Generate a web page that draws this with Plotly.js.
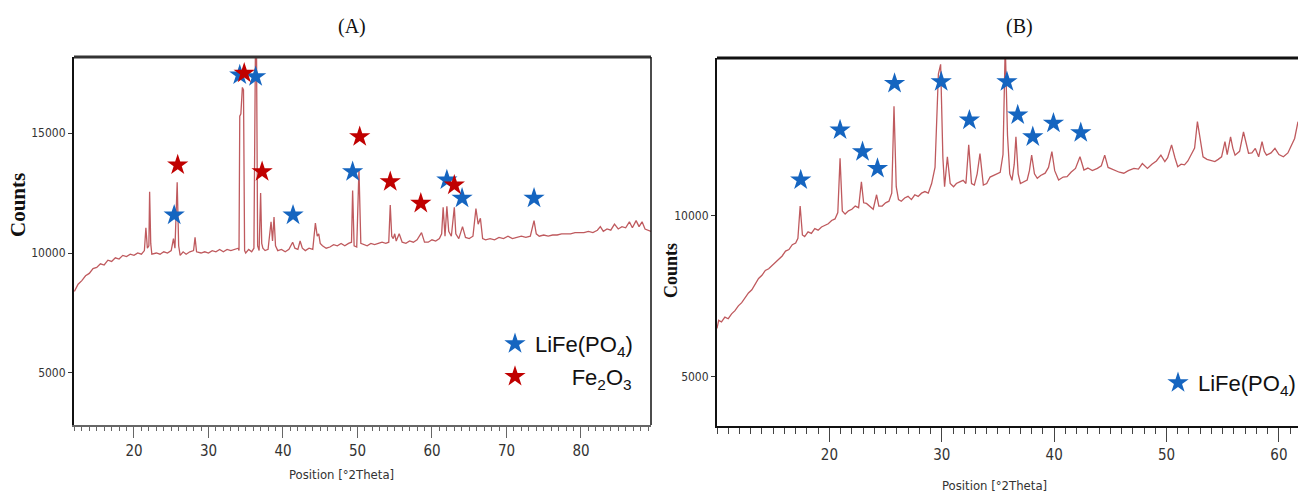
<!DOCTYPE html>
<html>
<head>
<meta charset="utf-8">
<script src="https://cdn.plot.ly/plotly-3.0.1.min.js"></script>
<style>html,body{margin:0;padding:0;background:#fff;}#chart{width:1298px;height:493px;}</style>
</head>
<body>
<div id="chart"></div>
<script>
// ---------- Panel A: pattern ----------
const thetaA = [12.0,12.5,13.0,13.5,14.0,14.5,15.0,15.5,16.0,16.5,17.0,17.5,18.0,18.5,19.0,19.5,20.0,20.5,21.0,21.3,21.4,21.6,21.8,22.0,22.1,22.25,22.4,23.0,23.5,24.0,24.5,25.0,25.3,25.5,25.8,26.0,26.2,26.6,27.0,27.5,28.0,28.2,28.4,29.0,29.5,30.0,30.5,31.0,31.5,32.0,32.5,33.0,33.5,34.0,34.1,34.2,34.35,34.55,34.7,34.85,35.0,35.4,35.8,36.1,36.3,36.45,36.6,36.8,37.0,37.15,37.3,37.6,38.0,38.4,38.6,38.8,39.0,39.3,39.8,40.3,40.8,41.3,41.6,42.0,42.3,42.6,43.0,43.5,44.0,44.35,44.6,44.8,45.0,45.3,45.8,46.3,46.8,47.3,47.8,48.3,48.8,49.2,49.35,49.55,49.9,50.2,50.45,50.8,51.3,51.8,52.3,52.8,53.3,53.8,54.2,54.4,54.6,54.8,55.0,55.2,55.6,56.0,56.5,57.0,57.5,58.0,58.6,59.0,59.5,60.0,60.5,61.0,61.3,61.5,61.75,62.0,62.25,62.6,63.0,63.2,63.6,64.1,64.5,65.0,65.5,65.9,66.2,66.5,66.8,67.2,67.8,68.4,69.0,69.6,70.2,70.8,71.4,72.0,72.6,73.2,73.7,74.0,74.4,75.0,75.6,76.2,76.8,77.4,78.0,78.6,79.2,79.8,80.4,81.0,81.6,82.2,82.6,83.0,83.5,84.0,84.5,85.0,85.5,86.0,86.5,86.9,87.4,87.8,88.2,88.6,89.0,89.4];
const countsA = [8400,8700,8850,9050,9150,9350,9400,9550,9500,9700,9650,9800,9750,9900,9850,9950,9900,10000,9950,10050,10100,11050,10200,10300,12550,10400,9950,10000,9950,10050,10000,10100,10600,10200,12950,10300,9900,10050,9950,10050,10100,10650,10050,10000,10050,10000,10100,10050,10150,10050,10150,10100,10150,10200,10100,15700,15800,16900,16800,10100,10000,10150,10050,10200,18400,18400,10300,10100,12500,10400,10200,10100,10150,11300,10500,11500,10300,10100,10150,10050,10150,10450,10200,10150,10500,10200,10100,10200,10150,11250,10700,10800,10400,10300,10200,10250,10350,10300,10400,10300,10400,10450,12600,10300,10250,13500,10400,10350,10300,10400,10350,10400,10450,10400,10450,12000,10700,10600,10800,10500,10800,10450,10400,10500,10450,10550,10850,10450,10450,10550,10500,10600,10800,11900,10700,11950,10900,10700,11900,10800,10600,11100,10650,10600,10700,11850,11200,11450,10600,10550,10600,10550,10650,10600,10700,10600,10650,10700,10650,10700,11350,10800,10700,10750,10700,10750,10750,10800,10800,10800,10850,10850,10850,10900,10850,10950,11100,10900,11000,10950,11200,11000,11100,11050,11300,11050,11350,11100,11300,11000,10950,10900];

// Panel A peak markers
const lfpA_x = [25.4, 34.2, 36.33, 41.35, 49.35, 62.0, 64.04, 73.7];
const lfpA_y = [11580, 17420, 17350, 11580, 13390, 13040, 12280, 12280];
const feA_x = [25.87, 34.8, 37.2, 50.3, 54.4, 58.5, 63.0];
const feA_y = [13670, 17490, 13390, 14850, 12970, 12070, 12830];

// ---------- Panel B: pattern ----------
const thetaB = [10.0,10.15,10.4,10.7,11.0,11.3,11.6,11.9,12.2,12.5,12.8,13.1,13.4,13.7,14.0,14.3,14.6,14.9,15.2,15.5,15.8,16.1,16.4,16.7,17.0,17.2,17.4,17.6,17.8,18.1,18.4,18.7,19.0,19.3,19.6,19.9,20.2,20.5,20.75,20.95,21.15,21.4,21.7,22.0,22.3,22.6,22.85,23.05,23.3,23.6,23.9,24.2,24.4,24.7,25.0,25.3,25.55,25.75,25.95,26.15,26.4,26.7,27.0,27.3,27.6,27.9,28.2,28.5,28.8,29.1,29.4,29.7,29.9,30.1,30.25,30.5,30.75,31.05,31.3,31.6,31.9,32.15,32.4,32.65,32.9,33.15,33.4,33.7,34.0,34.3,34.6,34.9,35.2,35.45,35.65,35.85,36.05,36.25,36.45,36.6,36.8,37.0,37.3,37.6,37.8,38.0,38.25,38.5,38.8,39.2,39.5,39.8,40.05,40.4,40.8,41.15,41.5,41.9,42.3,42.65,43.0,43.4,43.85,44.2,44.5,44.8,45.0,45.4,45.8,46.2,46.6,47.1,47.5,47.85,48.3,48.7,49.1,49.5,49.85,50.1,50.45,50.75,51.0,51.3,51.6,51.9,52.2,52.5,52.75,53.0,53.25,53.6,54.0,54.3,54.6,54.9,55.2,55.4,55.7,55.9,56.1,56.5,56.85,57.1,57.3,57.6,57.9,58.2,58.5,58.7,58.9,59.3,59.65,60.0,60.4,60.8,61.1,61.4,61.7];
const countsB = [6500,6750,6700,6850,6800,6950,7050,7200,7300,7450,7600,7700,7900,8050,8150,8300,8350,8450,8550,8650,8750,8900,8950,9100,9150,9300,10300,9400,9350,9500,9450,9600,9550,9650,9700,9750,9850,9900,10100,11780,10150,10050,10150,10200,10300,10250,11050,10400,10380,10300,10200,10650,10300,10300,10400,10450,10700,13400,10900,10500,10450,10550,10600,10500,10650,10600,10700,10750,10700,11000,11500,14400,14700,11800,10900,11830,11000,10900,11000,11050,11100,11000,12200,11000,10950,11300,11930,10950,11000,11200,11250,11300,11350,11900,15300,12500,11300,11100,11600,12450,11300,11000,11050,11110,11400,11880,11300,11160,11250,11320,11500,11990,11400,11110,11200,11210,11350,11470,11830,11420,11480,11400,11470,11550,11880,11500,11470,11400,11350,11320,11400,11470,11450,11620,11470,11600,11700,11880,11680,11800,12200,11800,11520,11600,11580,11700,11880,12100,12920,12300,11830,11750,11700,11680,11750,11830,12300,11900,12450,12100,11880,12000,12600,12200,11940,11950,12090,11830,12300,12000,11880,11950,12090,11900,11830,11950,12150,12400,12920];

const lfpB_x = [17.45, 20.95, 22.95, 24.28, 25.8, 29.95, 32.46, 35.8, 36.76, 38.1, 39.94, 42.37];
const lfpB_y = [11110, 12660, 11990, 11470, 14110, 14160, 12970, 14160, 13130, 12450, 12870, 12580];

// ---------- labels ----------
const panelTitles = ['(A)', '(B)'];
const yTitle = 'Counts';
const xTitle = 'Position [°2Theta]';
const legendLFP = 'LiFe(PO<sub>4</sub>)';
const legendFe = '\u00a0\u00a0\u00a0\u00a0\u00a0\u00a0Fe<sub>2</sub>O<sub>3</sub>';
const yTicks = [5000, 10000, 15000];
const xTicksA = [20, 30, 40, 50, 60, 70, 80];
const xTicksB = [20, 30, 40, 50, 60];

const lineColor = '#bf5a5e';
const blue = '#1565c0';
const red = '#c00000';
const narrow = 'Liberation Sans Narrow, DejaVu Sans Condensed, Arial Narrow, sans-serif';
const serif = 'Liberation Serif, Times New Roman, serif';

const traces = [
  {x: thetaA, y: countsA, xaxis: 'x', yaxis: 'y', mode: 'lines', line: {color: lineColor, width: 1.3}, showlegend: false, hoverinfo: 'skip'},
  {x: lfpA_x, y: lfpA_y, xaxis: 'x', yaxis: 'y', mode: 'markers', name: legendLFP, legend: 'legend', legendgroup: 'a1',
   marker: {symbol: 'star', size: 16, color: blue, line: {width: 0}}},
  {x: feA_x, y: feA_y, xaxis: 'x', yaxis: 'y', mode: 'markers', name: legendFe, legend: 'legend', legendgroup: 'a2',
   marker: {symbol: 'star', size: 16, color: red, line: {width: 0}}},
  {x: thetaB, y: countsB, xaxis: 'x2', yaxis: 'y2', mode: 'lines', line: {color: lineColor, width: 1.3}, showlegend: false, hoverinfo: 'skip'},
  {x: lfpB_x, y: lfpB_y, xaxis: 'x2', yaxis: 'y2', mode: 'markers', name: legendLFP, legend: 'legend2',
   marker: {symbol: 'star', size: 16, color: blue, line: {width: 0}}}
];

const W = 1298, H = 493;
const px = v => v / W, py = v => (H - v) / H;

const xBase = {
  showline: true, ticks: 'outside', tickwidth: 1,
  showgrid: false, zeroline: false,
  tickfont: {family: narrow, size: 15, color: '#333'}
};
const yBase = {
  showline: true, linecolor: '#111', linewidth: 2, ticks: 'outside', ticklen: 4, tickwidth: 1, tickcolor: '#333',
  tickvals: yTicks, ticktext: yTicks.map(String), showgrid: false, zeroline: false,
  tickfont: {family: narrow, size: 12, color: '#333'}
};

function ann(text, x, y, font, extra) {
  return Object.assign({text: text, x: px(x), y: py(y), xref: 'paper', yref: 'paper', showarrow: false,
    xanchor: 'center', yanchor: 'middle', font: font}, extra || {});
}

const layout = {
  width: W, height: H,
  margin: {l: 0, r: 0, t: 0, b: 0, autoexpand: false},
  paper_bgcolor: '#fff', plot_bgcolor: '#fff',
  xaxis: Object.assign({}, xBase, {domain: [px(74), px(651)], range: [11.95, 89.4], anchor: 'y',
    tickvals: xTicksA, ticktext: xTicksA.map(String), ticklen: 11,
    linecolor: '#666', linewidth: 1.5, tickcolor: '#666',
    minor: {dtick: 1, tick0: 0, ticks: 'outside', ticklen: 4, tickwidth: 1, tickcolor: '#666', showgrid: false}}),
  yaxis: Object.assign({}, yBase, {domain: [py(425), py(57)], range: [2833, 18167], anchor: 'x'}),
  xaxis2: Object.assign({}, xBase, {domain: [px(717), 1], range: [10, 61.7], anchor: 'y2',
    tickvals: xTicksB, ticktext: xTicksB.map(String), ticklen: 14,
    linecolor: '#111', linewidth: 2, tickcolor: '#444',
    minor: {dtick: 1, tick0: 0, ticks: 'outside', ticklen: 6, tickwidth: 1, tickcolor: '#444', showgrid: false}}),
  yaxis2: Object.assign({}, yBase, {domain: [py(425.5), py(58)], range: [3484, 14898], anchor: 'x2'}),
  legend: {x: px(495), y: py(323), xanchor: 'left', yanchor: 'top', bgcolor: 'rgba(0,0,0,0)', tracegroupgap: 1,
    font: {family: 'Liberation Sans, Arial, sans-serif', size: 22, color: '#111'}},
  legend2: {x: px(1158), y: py(362), xanchor: 'left', yanchor: 'top', bgcolor: 'rgba(0,0,0,0)',
    font: {family: 'Liberation Sans, Arial, sans-serif', size: 22, color: '#111'}},
  shapes: [
    {type: 'line', xref: 'x domain', yref: 'y domain', x0: 0, x1: 1, y0: 1, y1: 1, line: {color: '#333', width: 3}},
    {type: 'line', xref: 'x domain', yref: 'y domain', x0: 1, x1: 1, y0: 0, y1: 1, line: {color: '#111', width: 1.5}},
    {type: 'line', xref: 'x2 domain', yref: 'y2 domain', x0: 0, x1: 1, y0: 1, y1: 1, line: {color: '#111', width: 3}}
  ],
  annotations: [
    ann(panelTitles[0], 352, 27, {family: serif, size: 20, color: '#111'}),
    ann(panelTitles[1], 1020, 27, {family: serif, size: 20, color: '#111'}),
    ann('<b>' + yTitle + '</b>', 18, 205, {family: serif, size: 21, color: '#111'}, {textangle: -90}),
    ann('<b>' + yTitle + '</b>', 671, 270, {family: serif, size: 18, color: '#111'}, {textangle: -90}),
    ann(xTitle, 341, 474, {family: narrow, size: 13, color: '#333'}),
    ann(xTitle, 995, 485, {family: narrow, size: 13, color: '#333'})
  ]
};

Plotly.newPlot('chart', traces, layout, {staticPlot: true, displayModeBar: false});
</script>
</body>
</html>
